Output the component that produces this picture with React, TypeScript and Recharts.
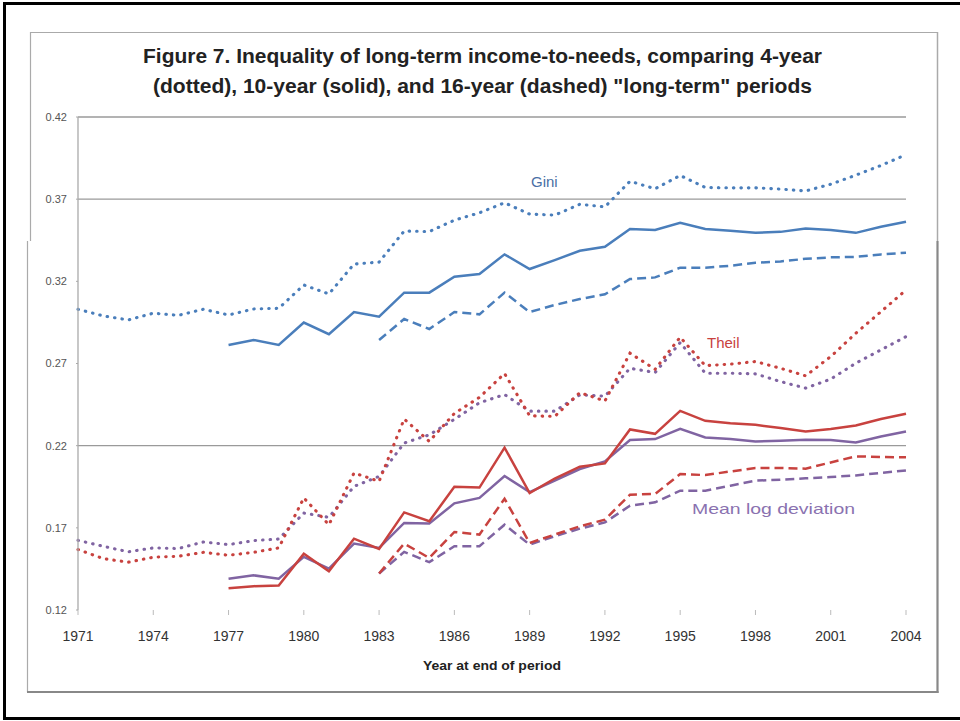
import React from "react";
import { LineChart, Line, XAxis, YAxis, ReferenceLine } from "recharts";

const years = [1971,1972,1973,1974,1975,1976,1977,1978,1979,1980,1981,1982,1983,1984,1985,1986,1987,1988,1989,1990,1991,1992,1993,1994,1995,1996,1997,1998,1999,2000,2001,2002,2003,2004];
const xTicks = [1971,1974,1977,1980,1983,1986,1989,1992,1995,1998,2001,2004];
const yTicks = [0.12,0.17,0.22,0.27,0.32,0.37,0.42];
const gridValues = [0.42,0.37,0.22];

const giniDotted = [0.303,0.299,0.2965,0.3006,0.2993,0.303,0.2995,0.3032,0.3036,0.3178,0.3123,0.3305,0.3317,0.3506,0.3503,0.3572,0.3617,0.3678,0.3609,0.3603,0.3669,0.3653,0.3809,0.3763,0.3844,0.3771,0.3769,0.3769,0.3761,0.375,0.3791,0.3846,0.3905,0.3971];
const giniSolid = [null,null,null,null,null,null,0.2813,0.2843,0.2813,0.2949,0.2878,0.3013,0.2985,0.3131,0.3131,0.3228,0.3244,0.3364,0.3275,0.3329,0.3386,0.341,0.3518,0.3512,0.3556,0.3518,0.3508,0.3495,0.3501,0.3522,0.3512,0.3495,0.3532,0.3562];
const giniDashed = [null,null,null,null,null,null,null,null,null,null,null,null,0.2843,0.2971,0.291,0.3013,0.2999,0.3131,0.3013,0.3056,0.3092,0.3121,0.3214,0.3224,0.3283,0.3283,0.3295,0.3313,0.3321,0.3337,0.3346,0.3349,0.3364,0.3374];

const theilDotted = [0.1568,0.1513,0.1491,0.1521,0.1527,0.1551,0.1533,0.1551,0.1578,0.1882,0.1719,0.2034,0.1983,0.2362,0.2226,0.2396,0.2494,0.2639,0.2382,0.2378,0.2523,0.2472,0.2763,0.2665,0.286,0.2687,0.2696,0.2712,0.2671,0.2625,0.2742,0.2884,0.3015,0.3147];
const theilSolid = [null,null,null,null,null,null,0.1333,0.1345,0.1349,0.1543,0.1436,0.1634,0.1572,0.1794,0.174,0.195,0.1945,0.2188,0.1912,0.2,0.2072,0.2092,0.2299,0.2272,0.2412,0.2351,0.2337,0.2327,0.2307,0.2286,0.2301,0.2323,0.2362,0.2394];
const theilDashed = [null,null,null,null,null,null,null,null,null,null,null,null,0.1422,0.1604,0.1517,0.1675,0.1659,0.1877,0.1608,0.1659,0.1709,0.175,0.1902,0.1906,0.2027,0.2021,0.2043,0.2064,0.2064,0.206,0.2098,0.2135,0.2131,0.2129];

const mldDotted = [0.1624,0.1588,0.1554,0.1578,0.1574,0.1614,0.1598,0.1622,0.1632,0.179,0.1764,0.1952,0.2013,0.2216,0.2266,0.236,0.2461,0.2511,0.241,0.241,0.2509,0.2501,0.2671,0.2645,0.2827,0.2641,0.2641,0.2637,0.259,0.255,0.2605,0.2702,0.2783,0.2864];
const mldSolid = [null,null,null,null,null,null,0.139,0.1411,0.139,0.1523,0.1452,0.1604,0.1578,0.173,0.1726,0.1849,0.1882,0.2015,0.1917,0.1987,0.2058,0.2104,0.2234,0.224,0.2303,0.225,0.224,0.2226,0.223,0.2236,0.2234,0.222,0.2256,0.2286];
const mldDashed = [null,null,null,null,null,null,null,null,null,null,null,null,0.1422,0.1554,0.1491,0.1588,0.1588,0.1719,0.1598,0.1649,0.1695,0.1733,0.1835,0.1855,0.1926,0.1926,0.1956,0.1987,0.1993,0.2001,0.2009,0.2019,0.2034,0.2049];

const data = years.map((year, i) => ({
  year,
  giniDotted: giniDotted[i], giniSolid: giniSolid[i], giniDashed: giniDashed[i],
  theilDotted: theilDotted[i], theilSolid: theilSolid[i], theilDashed: theilDashed[i],
  mldDotted: mldDotted[i], mldSolid: mldSolid[i], mldDashed: mldDashed[i],
}));

const BLUE = "#4A7EBB";
const RED = "#C8423F";
const PURPLE = "#8064A2";
const DOT = "0.5 7";
const DASH = "9 5";
const FONT = "'Liberation Sans', Arial, sans-serif";

export default function App() {
  const lw = 2.5;
  return (
    <div style={{ position: "absolute", left: 0, top: 0, width: 960, height: 721, background: "#fff" }}>
      <LineChart
        width={960}
        height={721}
        data={data}
        margin={{ top: 117, right: 54, bottom: 81, left: 28 }}
      >
        {gridValues.map((v) => (
          <ReferenceLine key={v} y={v} stroke="#9a9a9a" strokeWidth={1.3} ifOverflow="extendDomain" />
        ))}
        <XAxis
          dataKey="year"
          type="number"
          domain={[1971, 2004]}
          ticks={xTicks}
          axisLine={false}
          tickLine={{ stroke: "#bbb" }}
          tickSize={5}
          tickMargin={16}
          height={30}
          tick={{ fontSize: 14, fill: "#333", fontFamily: FONT }}
          allowDecimals={false}
        />
        <YAxis
          type="number"
          domain={[0.12, 0.42]}
          ticks={yTicks}
          width={50}
          axisLine={{ stroke: "#aaa", strokeWidth: 1.3 }}
          tickLine={{ stroke: "#aaa" }}
          tickSize={2}
          tickMargin={9}
          tickFormatter={(v: number) => v.toFixed(2)}
          tick={{ fontSize: 11, fill: "#555", fontFamily: FONT }}
        />
        <Line dataKey="giniDotted" stroke={BLUE} strokeWidth={lw + 0.6} strokeDasharray={DOT} strokeLinecap="round" dot={false} isAnimationActive={false} />
        <Line dataKey="giniSolid" stroke={BLUE} strokeWidth={lw} dot={false} isAnimationActive={false} />
        <Line dataKey="giniDashed" stroke={BLUE} strokeWidth={lw} strokeDasharray={DASH} dot={false} isAnimationActive={false} />
        <Line dataKey="mldDotted" stroke={PURPLE} strokeWidth={lw + 0.6} strokeDasharray={DOT} strokeLinecap="round" dot={false} isAnimationActive={false} />
        <Line dataKey="mldSolid" stroke={PURPLE} strokeWidth={lw} dot={false} isAnimationActive={false} />
        <Line dataKey="mldDashed" stroke={PURPLE} strokeWidth={lw} strokeDasharray={DASH} dot={false} isAnimationActive={false} />
        <Line dataKey="theilDotted" stroke={RED} strokeWidth={lw + 0.6} strokeDasharray={DOT} strokeLinecap="round" dot={false} isAnimationActive={false} />
        <Line dataKey="theilSolid" stroke={RED} strokeWidth={lw} dot={false} isAnimationActive={false} />
        <Line dataKey="theilDashed" stroke={RED} strokeWidth={lw} strokeDasharray={DASH} dot={false} isAnimationActive={false} />
      </LineChart>
      <svg
        width={960}
        height={721}
        style={{ position: "absolute", left: 0, top: 0, pointerEvents: "none" }}
      >
        {/* outer black frame */}
        <line x1={4} y1={3.5} x2={960} y2={3.5} stroke="#000" strokeWidth={3} />
        <line x1={4.5} y1={2} x2={4.5} y2={720} stroke="#000" strokeWidth={3} />
        <line x1={4} y1={718.5} x2={960} y2={718.5} stroke="#000" strokeWidth={3} />
        {/* chart area frame */}
        <line x1={30} y1={32.5} x2={938} y2={32.5} stroke="#aaa" strokeWidth={1.2} />
        <line x1={30.5} y1={32} x2={30.5} y2={241} stroke="#aaa" strokeWidth={1.2} />
        <line x1={27.5} y1={241} x2={27.5} y2={692} stroke="#aaa" strokeWidth={1.2} />
        <line x1={937.5} y1={32} x2={937.5} y2={241} stroke="#aaa" strokeWidth={1.5} />
        <line x1={937.5} y1={241} x2={937.5} y2={693} stroke="#888" strokeWidth={2.2} />
        <line x1={27} y1={692} x2={938.5} y2={692} stroke="#888" strokeWidth={2.2} />
        {/* title */}
        <text x={143} y={63} fontFamily={FONT} fontWeight="bold" fontSize={20} fill="#222" textLength={679} lengthAdjust="spacingAndGlyphs">
          Figure 7. Inequality of long-term income-to-needs, comparing 4-year
        </text>
        <text x={153} y={93} fontFamily={FONT} fontWeight="bold" fontSize={20} fill="#222" textLength={659} lengthAdjust="spacingAndGlyphs">
          (dotted), 10-year (solid), and 16-year (dashed) "long-term" periods
        </text>
        {/* axis title */}
        <text x={423} y={670} fontFamily={FONT} fontWeight="bold" fontSize={13} fill="#222" textLength={138} lengthAdjust="spacingAndGlyphs">
          Year at end of period
        </text>
        {/* annotations */}
        <text x={531} y={187} fontFamily={FONT} fontSize={15} fill="#4A6FA5">Gini</text>
        <text x={707} y={348} fontFamily={FONT} fontSize={15} fill="#C8423F">Theil</text>
        <text x={692} y={514} fontFamily={FONT} fontSize={15} fill="#8A72B0" textLength={163} lengthAdjust="spacingAndGlyphs">Mean log deviation</text>
      </svg>
    </div>
  );
}
